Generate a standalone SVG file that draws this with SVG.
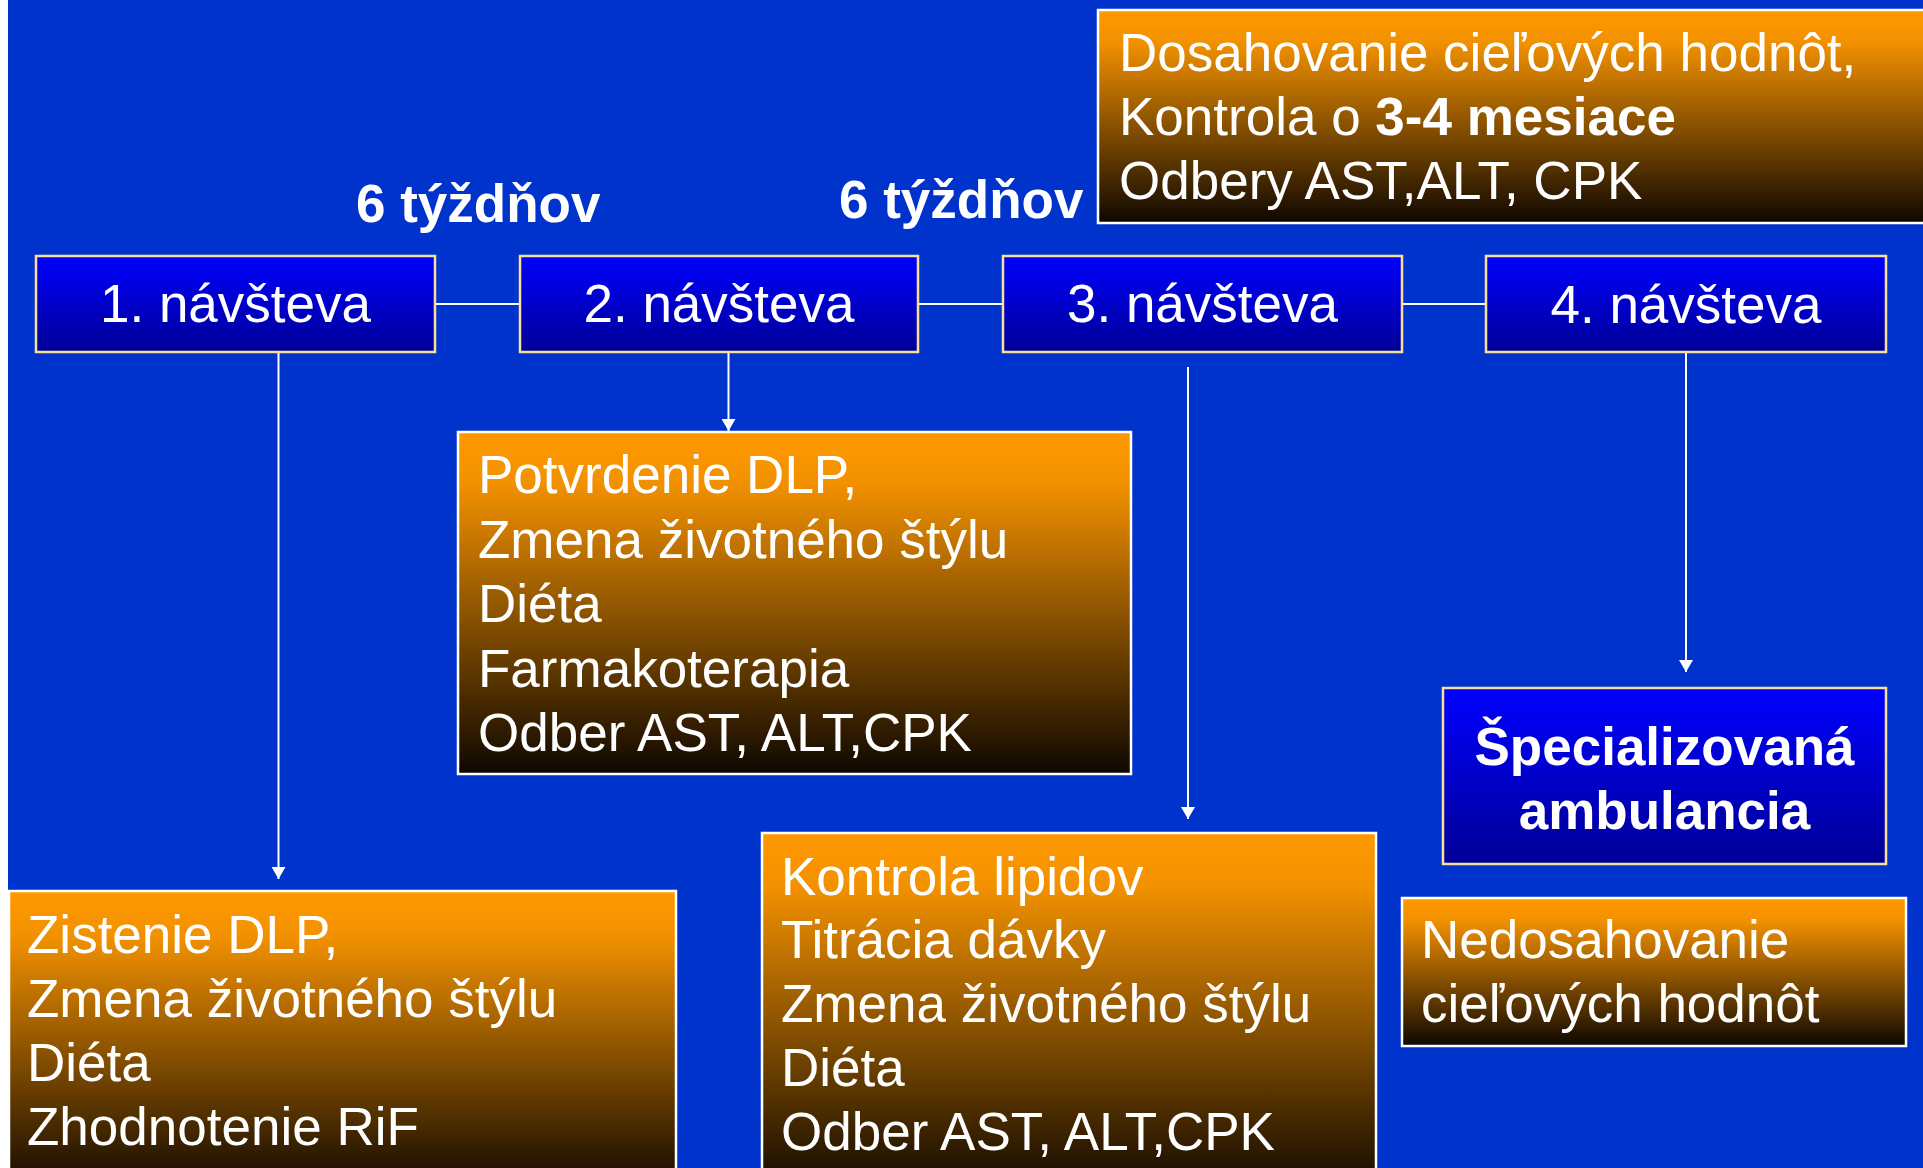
<svg xmlns="http://www.w3.org/2000/svg" width="1923" height="1168" viewBox="0 0 1923 1168">
<defs>
<linearGradient id="gBlue" x1="0" y1="0" x2="0" y2="1">
<stop offset="0" stop-color="#0000FF"/>
<stop offset="1" stop-color="#000096"/>
</linearGradient>
<linearGradient id="gOrange" x1="0" y1="0" x2="0" y2="1">
<stop offset="0" stop-color="#FF9900"/>
<stop offset="0.15" stop-color="#F29100"/>
<stop offset="1" stop-color="#0E0700"/>
</linearGradient>
<marker id="arr" viewBox="0 0 12 14" refX="12" refY="7" markerWidth="12" markerHeight="14" markerUnits="userSpaceOnUse" orient="auto">
<path d="M0,0 L12,7 L0,14 Z" fill="#FFFFFF"/>
</marker>
<style>
text{font-family:"Liberation Sans",Arial,sans-serif;fill:#FFFFFF;font-size:53px}
.b{font-weight:bold}
.blue{fill:url(#gBlue);stroke:#F8E09A;stroke-width:2.5}
.org{stroke:#FFFFFF;stroke-width:2.5}
.c{text-anchor:middle}
.ln{stroke:#FFFFFF;stroke-width:2;fill:none}
</style>
</defs>
<rect x="0" y="0" width="1923" height="1168" fill="#0033CC"/>
<rect x="0" y="0" width="8" height="1168" fill="#FFFFFF"/>

<g id="connectors">
<line class="ln" x1="435" y1="304" x2="520" y2="304"/>
<line class="ln" x1="918" y1="304" x2="1003" y2="304"/>
<line class="ln" x1="1402" y1="304" x2="1486" y2="304"/>
<line class="ln" x1="278.5" y1="353" x2="278.5" y2="879" marker-end="url(#arr)"/>
<line class="ln" x1="728.5" y1="353" x2="728.5" y2="431" marker-end="url(#arr)"/>
<line class="ln" x1="1188" y1="367" x2="1188" y2="819" marker-end="url(#arr)"/>
<line class="ln" x1="1686" y1="353" x2="1686" y2="672" marker-end="url(#arr)"/>
</g>

<g id="label-6t-1"><text class="b" x="356" y="222">6 týždňov</text></g>
<g id="label-6t-2"><text class="b" x="839" y="218">6 týždňov</text></g>

<g id="goal-box">
<rect class="org" x="1098" y="10" width="840" height="213" fill="url(#gOrange)"/>
<text x="1119" y="71">Dosahovanie cieľových hodnôt,</text>
<text x="1119" y="135">Kontrola o <tspan class="b">3-4 mesiace</tspan></text>
<text x="1119" y="199">Odbery AST,ALT, CPK</text>
</g>

<g id="visit1">
<rect class="blue" x="36" y="256" width="399" height="96"/>
<text class="c" x="235.5" y="322">1. návšteva</text>
</g>
<g id="visit2">
<rect class="blue" x="520" y="256" width="398" height="96"/>
<text class="c" x="719" y="322">2. návšteva</text>
</g>
<g id="visit3">
<rect class="blue" x="1003" y="256" width="399" height="96"/>
<text class="c" x="1202.5" y="322">3. návšteva</text>
</g>
<g id="visit4">
<rect class="blue" x="1486" y="256" width="400" height="96"/>
<text class="c" x="1686" y="323">4. návšteva</text>
</g>

<g id="box-potvrdenie">
<rect class="org" x="458" y="432" width="673" height="342" fill="url(#gOrange)"/>
<text x="478" y="493">Potvrdenie DLP,</text>
<text x="478" y="558">Zmena životného štýlu</text>
<text x="478" y="622">Diéta</text>
<text x="478" y="687">Farmakoterapia</text>
<text x="478" y="751">Odber AST, ALT,CPK</text>
</g>

<g id="box-zistenie">
<rect class="org" x="9" y="891" width="667" height="300" fill="url(#gOrange)"/>
<text x="27" y="953">Zistenie DLP,</text>
<text x="27" y="1017">Zmena životného štýlu</text>
<text x="27" y="1081">Diéta</text>
<text x="27" y="1145">Zhodnotenie RiF</text>
</g>

<g id="box-kontrola">
<rect class="org" x="762" y="833" width="614" height="360" fill="url(#gOrange)"/>
<text x="781" y="895">Kontrola lipidov</text>
<text x="781" y="958">Titrácia dávky</text>
<text x="781" y="1022">Zmena životného štýlu</text>
<text x="781" y="1086">Diéta</text>
<text x="781" y="1150">Odber AST, ALT,CPK</text>
</g>

<g id="box-specializovana">
<rect class="blue" x="1443" y="688" width="443" height="176"/>
<text class="b c" x="1664.5" y="765">Špecializovaná</text>
<text class="b c" x="1664.5" y="829">ambulancia</text>
</g>

<g id="box-nedosahovanie">
<rect class="org" x="1402" y="898" width="504" height="148" fill="url(#gOrange)"/>
<text x="1421" y="958">Nedosahovanie</text>
<text x="1421" y="1022">cieľových hodnôt</text>
</g>
</svg>
